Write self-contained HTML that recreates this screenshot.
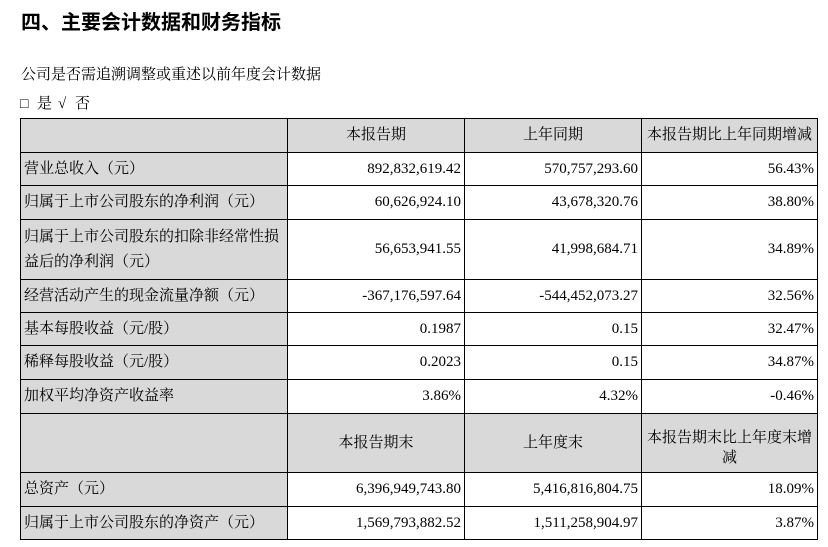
<!DOCTYPE html>
<html>
<head>
<meta charset="utf-8">
<style>
  html,body{margin:0;padding:0;background:#fff;}
  body{width:828px;height:547px;position:relative;overflow:hidden;
       font-family:"Liberation Serif","Noto Serif CJK SC",serif;color:#000;font-size:15px;}
  .t{position:absolute;white-space:nowrap;}
  .title{left:21px;top:9px;font-family:"Liberation Sans","Noto Sans CJK SC",sans-serif;font-weight:bold;font-size:20px;line-height:28px;}
  .c{position:absolute;box-sizing:border-box;border:1px solid #000;display:flex;align-items:center;
     line-height:25px;white-space:nowrap;}
  .g{background:#d9d9d9;}
  .l{justify-content:flex-start;padding-left:3px;}
  .r{justify-content:flex-end;padding-right:3px;}
  .m{justify-content:center;text-align:center;}
</style>
</head>
<body>
<div class="t title">四、主要会计数据和财务指标</div>
<div class="t" style="left:21px;top:63px;line-height:24px;">公司是否需追溯调整或重述以前年度会计数据</div>
<div class="t" style="left:20px;top:92px;line-height:24px;"><span style="font-size:14px;">□</span><span style="position:absolute;left:17px;">是</span><span style="position:absolute;left:38px;">√</span><span style="position:absolute;left:55px;">否</span></div>

<!-- header row 1 -->
<div class="c g" style="left:20px;top:118px;width:268px;height:35px;"></div>
<div class="c g m" style="left:287px;top:118px;width:178px;height:35px;">本报告期</div>
<div class="c g m" style="left:464px;top:118px;width:178px;height:35px;">上年同期</div>
<div class="c g m" style="left:641px;top:118px;width:177px;height:35px;">本报告期比上年同期增减</div>

<!-- row 1 -->
<div class="c g l" style="left:20px;top:152px;width:268px;height:34px;">营业总收入（元）</div>
<div class="c r" style="left:287px;top:152px;width:178px;height:34px;">892,832,619.42</div>
<div class="c r" style="left:464px;top:152px;width:178px;height:34px;">570,757,293.60</div>
<div class="c r" style="left:641px;top:152px;width:177px;height:34px;">56.43%</div>

<!-- row 2 -->
<div class="c g l" style="left:20px;top:185px;width:268px;height:35px;">归属于上市公司股东的净利润（元）</div>
<div class="c r" style="left:287px;top:185px;width:178px;height:35px;">60,626,924.10</div>
<div class="c r" style="left:464px;top:185px;width:178px;height:35px;">43,678,320.76</div>
<div class="c r" style="left:641px;top:185px;width:177px;height:35px;">38.80%</div>

<!-- row 3 -->
<div class="c g l" style="left:20px;top:219px;width:268px;height:61px;">归属于上市公司股东的扣除非经常性损<br>益后的净利润（元）</div>
<div class="c r" style="left:287px;top:219px;width:178px;height:61px;">56,653,941.55</div>
<div class="c r" style="left:464px;top:219px;width:178px;height:61px;">41,998,684.71</div>
<div class="c r" style="left:641px;top:219px;width:177px;height:61px;">34.89%</div>

<!-- row 4 -->
<div class="c g l" style="left:20px;top:279px;width:268px;height:34px;">经营活动产生的现金流量净额（元）</div>
<div class="c r" style="left:287px;top:279px;width:178px;height:34px;">-367,176,597.64</div>
<div class="c r" style="left:464px;top:279px;width:178px;height:34px;">-544,452,073.27</div>
<div class="c r" style="left:641px;top:279px;width:177px;height:34px;">32.56%</div>

<!-- row 5 -->
<div class="c g l" style="left:20px;top:312px;width:268px;height:34px;">基本每股收益（元/股）</div>
<div class="c r" style="left:287px;top:312px;width:178px;height:34px;">0.1987</div>
<div class="c r" style="left:464px;top:312px;width:178px;height:34px;">0.15</div>
<div class="c r" style="left:641px;top:312px;width:177px;height:34px;">32.47%</div>

<!-- row 6 -->
<div class="c g l" style="left:20px;top:345px;width:268px;height:35px;">稀释每股收益（元/股）</div>
<div class="c r" style="left:287px;top:345px;width:178px;height:35px;">0.2023</div>
<div class="c r" style="left:464px;top:345px;width:178px;height:35px;">0.15</div>
<div class="c r" style="left:641px;top:345px;width:177px;height:35px;">34.87%</div>

<!-- row 7 -->
<div class="c g l" style="left:20px;top:379px;width:268px;height:35px;">加权平均净资产收益率</div>
<div class="c r" style="left:287px;top:379px;width:178px;height:35px;">3.86%</div>
<div class="c r" style="left:464px;top:379px;width:178px;height:35px;">4.32%</div>
<div class="c r" style="left:641px;top:379px;width:177px;height:35px;">-0.46%</div>

<!-- header row 2 -->
<div class="c g" style="left:20px;top:413px;width:268px;height:60px;"></div>
<div class="c g m" style="left:287px;top:413px;width:178px;height:60px;">本报告期末</div>
<div class="c g m" style="left:464px;top:413px;width:178px;height:60px;">上年度末</div>
<div class="c g m" style="left:641px;top:413px;width:177px;height:60px;line-height:20px;padding-top:9px;">本报告期末比上年度末增<br>减</div>

<!-- row 8 -->
<div class="c g l" style="left:20px;top:472px;width:268px;height:35px;">总资产（元）</div>
<div class="c r" style="left:287px;top:472px;width:178px;height:35px;">6,396,949,743.80</div>
<div class="c r" style="left:464px;top:472px;width:178px;height:35px;">5,416,816,804.75</div>
<div class="c r" style="left:641px;top:472px;width:177px;height:35px;">18.09%</div>

<!-- row 9 -->
<div class="c g l" style="left:20px;top:506px;width:268px;height:34px;">归属于上市公司股东的净资产（元）</div>
<div class="c r" style="left:287px;top:506px;width:178px;height:34px;">1,569,793,882.52</div>
<div class="c r" style="left:464px;top:506px;width:178px;height:34px;">1,511,258,904.97</div>
<div class="c r" style="left:641px;top:506px;width:177px;height:34px;">3.87%</div>
</body>
</html>
